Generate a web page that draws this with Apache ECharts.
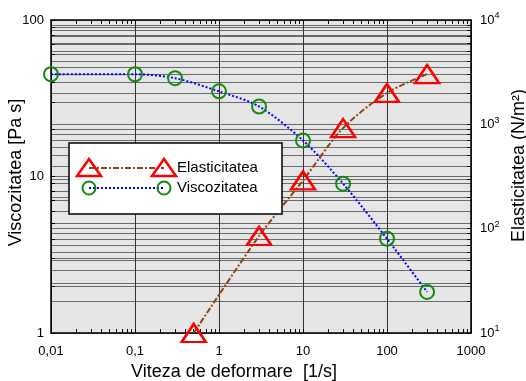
<!DOCTYPE html>
<html>
<head>
<meta charset="utf-8">
<script src="https://cdn.jsdelivr.net/npm/echarts@6/dist/echarts.min.js"></script>
<style>html,body{margin:0;padding:0;background:#fff}#c{width:526px;height:381px}</style>
</head>
<body>
<div id="c"></div>
<script>
const shearRate = [0.01, 0.1, 0.3, 1, 3, 10, 30, 100, 300];
const viscosity = [45, 45, 42.5, 35, 28, 17, 9, 4, 1.83];
const elasticRate = [0.5, 3, 10, 30, 100, 300];
const elasticity = [10, 85, 290, 920, 2000, 3030];
const xLabels = ['0,01', '0,1', '1', '10', '100', '1000'];
const xDecades = [0.01, 0.1, 1, 10, 100, 1000];
const leftDecades = [1, 10, 100];
const rightDecades = [10, 100, 1000, 10000];

function minorsOf(decs) {
  const out = [];
  for (let i = 0; i < decs.length - 1; i++) {
    for (let k = 1; k <= 9; k++) out.push(+(decs[i] * k).toPrecision(6));
  }
  out.push(decs[decs.length - 1]);
  return out;
}
const xMinor = minorsOf(xDecades);
const leftMinor = minorsOf(leftDecades);
const rightMinor = minorsOf(rightDecades);

const FONT = 'Liberation Sans';
const chart = echarts.init(document.getElementById('c'));
const gridLine = { show: true, lineStyle: { color: '#6a6a6a', width: 1 } };
const axLine = { show: true, lineStyle: { color: '#000', width: 1.5 } };

const option = {
  animation: false,
  textStyle: { fontFamily: FONT },
  grid: { left: 51, right: 55, top: 20, bottom: 48, show: true, backgroundColor: '#e6e6e6', borderWidth: 0,
    containLabel: false, outerBoundsMode: 'none' },
  xAxis: [
    {
      type: 'log', logBase: 10, min: 0.01, max: 1000, position: 'bottom',
      name: 'Viteza de deformare  [1/s]', nameLocation: 'middle', nameGap: 30, nameMoveOverlap: false,
      nameTextStyle: { fontSize: 18, color: '#000', fontFamily: FONT, padding: [0, 54, 0, 0] },
      axisLine: axLine,
      axisTick: { show: false },
      axisLabel: { color: '#000', fontSize: 13, margin: 12, fontFamily: FONT,
        customValues: xDecades,
        formatter: v => xLabels[xDecades.findIndex(d => Math.abs(Math.log10(d) - Math.log10(v)) < 1e-6)] },
      splitLine: { show: true, lineStyle: { color: '#333', width: 1 } },
      minorTick: { show: false }
    },
    {
      type: 'log', logBase: 10, min: 0.01, max: 1000, position: 'bottom',
      axisLine: { show: false },
      axisTick: { show: true, inside: true, length: 4, customValues: xMinor, lineStyle: { color: '#000', width: 1 } },
      axisLabel: { show: false }, splitLine: { show: false }
    },
    {
      type: 'log', logBase: 10, min: 0.01, max: 1000, position: 'top',
      axisLine: axLine,
      axisTick: { show: true, inside: true, length: 4, customValues: xMinor, lineStyle: { color: '#000', width: 1 } },
      axisLabel: { show: false }, splitLine: { show: false }
    }
  ],
  yAxis: [
    {
      type: 'log', logBase: 10, min: 1, max: 100, position: 'left',
      name: 'Viscozitatea [Pa s]', nameLocation: 'middle', nameGap: 26, nameRotate: 90, nameMoveOverlap: false,
      nameTextStyle: { fontSize: 18, color: '#000', fontFamily: FONT, padding: [0, 0, 0, 8] },
      axisLine: axLine,
      axisTick: { show: true, inside: true, length: 4, customValues: leftMinor, lineStyle: { color: '#000' } },
      axisLabel: { color: '#000', fontSize: 13, margin: 7, customValues: leftDecades, fontFamily: FONT },
      splitLine: gridLine
    },
    {
      type: 'log', logBase: 10, min: 10, max: 10000, position: 'right',
      name: 'Elasticitatea (N/m²)', nameLocation: 'middle', nameGap: 39, nameRotate: 90, nameMoveOverlap: false,
      nameTextStyle: { fontSize: 18, color: '#000', fontFamily: FONT, padding: [0, 0, 0, 22] },
      axisLine: axLine,
      axisTick: { show: true, inside: true, length: 4, customValues: rightMinor, lineStyle: { color: '#000' } },
      axisLabel: { color: '#000', fontSize: 13, margin: 9, customValues: rightDecades, fontFamily: FONT,
        formatter: v => '10{s|' + Math.round(Math.log10(v)) + '}',
        rich: { s: { fontSize: 9, verticalAlign: 'top', padding: [0, 0, 8, 0], fontFamily: FONT } } },
      splitLine: gridLine
    }
  ],
  series: [
    {
      name: 'Viscozitatea', type: 'line', xAxisIndex: 0, yAxisIndex: 0,
      data: shearRate.map((x, i) => [x, viscosity[i]]),
      smooth: 0.3,
      symbol: 'circle', symbolSize: 14,
      itemStyle: { color: 'rgba(0,0,0,0)', borderColor: '#138a13', borderWidth: 2 },
      lineStyle: { color: '#0000ff', width: 2, type: [2, 2] },
      z: 3
    },
    {
      name: 'Elasticitatea', type: 'line', xAxisIndex: 0, yAxisIndex: 1,
      data: elasticRate.map((x, i) => [x, elasticity[i]]),
      smooth: 0.3,
      symbol: 'triangle', symbolSize: [24, 18],
      itemStyle: { color: 'rgba(0,0,0,0)', borderColor: '#ff0000', borderWidth: 2.5 },
      lineStyle: { color: '#8b4513', width: 2, type: [6, 2, 2, 2] },
      z: 4
    }
  ],
  graphic: [
    { type: 'rect', shape: { x: 69, y: 143, width: 213, height: 71 }, style: { fill: '#fff', stroke: '#000', lineWidth: 1.5 }, z: 100 },
    { type: 'line', shape: { x1: 89, y1: 168, x2: 164, y2: 168 }, style: { stroke: '#8b4513', lineWidth: 2, lineDash: [6, 2, 2, 2] }, z: 101 },
    { type: 'polygon', shape: { points: [[89, 159], [77, 176], [101, 176]] }, style: { fill: 'none', stroke: '#ff0000', lineWidth: 2.5 }, z: 102 },
    { type: 'polygon', shape: { points: [[164, 159], [152, 176], [176, 176]] }, style: { fill: 'none', stroke: '#ff0000', lineWidth: 2.5 }, z: 102 },
    { type: 'text', x: 177, y: 168, style: { text: 'Elasticitatea', font: '15px "Liberation Sans"', fill: '#000', textVerticalAlign: 'middle' }, z: 102 },
    { type: 'line', shape: { x1: 89, y1: 188, x2: 164, y2: 188 }, style: { stroke: '#0000ff', lineWidth: 2, lineDash: [2, 2] }, z: 101 },
    { type: 'circle', shape: { cx: 89, cy: 188, r: 6.5 }, style: { fill: 'none', stroke: '#138a13', lineWidth: 2 }, z: 102 },
    { type: 'circle', shape: { cx: 164, cy: 188, r: 6.5 }, style: { fill: 'none', stroke: '#138a13', lineWidth: 2 }, z: 102 },
    { type: 'text', x: 177, y: 188, style: { text: 'Viscozitatea', font: '15px "Liberation Sans"', fill: '#000', textVerticalAlign: 'middle' }, z: 102 }
  ]
};
chart.setOption(option);
</script>
</body>
</html>
